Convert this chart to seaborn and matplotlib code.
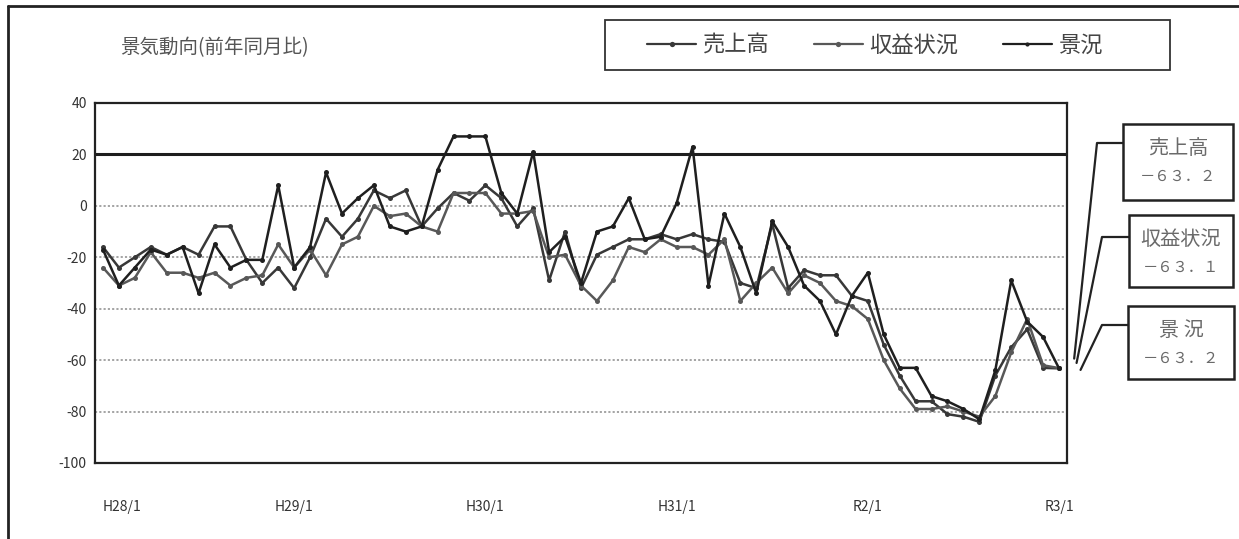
import numpy as np
import pandas as pd
import matplotlib
matplotlib.use("Agg")
import matplotlib.pyplot as plt
from matplotlib.lines import Line2D
from matplotlib.patches import Rectangle
import seaborn as sns

# ---- data: monthly DI, year-on-year (H28/1 .. R3/1) ----
months = list(range(61))
tick_pos = [0, 12, 24, 36, 48, 60]
tick_labels = ["H28/1", "H29/1", "H30/1", "H31/1", "R2/1", "R3/1"]

uriage = [-16, -24, -20, -16, -19, -16, -19, -8, -8, -21,
          -30, -24, -32, -20, -5, -12, -5, 6, 3, 6,
          -8, -1, 5, 2, 8, 3, -8, -1, -29, -10,
          -32, -19, -16, -13, -13, -11, -13, -11, -13, -14,
          -30, -32, -7, -32, -25, -27, -27, -35, -37, -54,
          -66, -76, -76, -81, -82, -84, -66, -55, -48, -63, -63.2]
shueki = [-24, -31, -28, -18, -26, -26, -28, -26, -31, -28,
          -27, -15, -24, -17, -27, -15, -12, 0, -4, -3,
          -8, -10, 5, 5, 5, -3, -3, -2, -20, -19,
          -31, -37, -29, -16, -18, -13, -16, -16, -19, -13,
          -37, -30, -24, -34, -27, -30, -37, -39, -44, -60,
          -71, -79, -79, -78, -80, -82, -74, -57, -44, -62, -63.1]
keikyo = [-17, -31, -24, -17, -19, -16, -34, -15, -24, -21,
          -21, 8, -24, -16, 13, -3, 3, 8, -8, -10,
          -8, 14, 27, 27, 27, 5, -3, 21, -18, -12,
          -30, -10, -8, 3, -13, -12, 1, 23, -31, -3,
          -16, -34, -6, -16, -31, -37, -50, -35, -26, -50,
          -63, -63, -74, -76, -79, -83, -64, -29, -45, -51, -63.2]

series_names = ["売上高", "収益状況", "景況"]
box_names = ["売上高", "収益状況", "景 況"]
series_values = [uriage, shueki, keikyo]
series_colors = ["#383838", "#585858", "#1f1f1f"]
marker_sizes = [3.8, 3.8, 3.0]

df = pd.DataFrame({
    "month": months * 3,
    "value": uriage + shueki + keikyo,
    "series": sum([[n] * len(months) for n in series_names], []),
})

sns.set_style("white")
plt.rcParams["font.family"] = ["Noto Sans CJK JP", "DejaVu Sans"]
plt.rcParams["axes.unicode_minus"] = False

W, H = 1239, 539
fig = plt.figure(figsize=(W / 100, H / 100), dpi=100)


def fx(px):
    return px / W


def fy(py):
    return 1 - py / H


def to_fullwidth(s):
    table = {ord(c): ord(c) + 0xFEE0 for c in "0123456789."}
    table[ord("-")] = ord("－")
    return s.translate(table)


ax = fig.add_axes([fx(95), fy(463), fx(1067) - fx(95), fy(103) - fy(463)])

# reference grid
for gy in [0, -20, -40, -60, -80]:
    ax.axhline(gy, color="#8c8c8c", lw=1.1, ls=(0, (1.4, 1.4)), zorder=0)
ax.axhline(20, color="#1e1e1e", lw=2.2, zorder=1)

sns.lineplot(data=df, x="month", y="value", hue="series",
             hue_order=series_names, palette=series_colors,
             marker="o", markersize=3.6, markeredgewidth=0,
             linewidth=1.8, legend=False, ax=ax, zorder=3)

ax.set_xlim(-0.5, 60.5)
ax.set_ylim(-100, 40)
ax.set_yticks(range(-100, 41, 20))
ax.set_xlabel("")
ax.set_ylabel("")
ax.set_xticks(tick_pos, tick_labels)
ax.set_xticks(np.arange(-0.5, 61, 1), minor=True)
ax.tick_params(axis="x", which="major", length=0, pad=27,
               labelsize=10, labelcolor="#333333")
ax.tick_params(axis="x", which="minor", direction="in", length=4.5,
               width=1.0, color="#333333")
ax.tick_params(axis="y", length=0, pad=6, labelsize=10,
               labelcolor="#333333")
ax.get_xticklabels()[0].set_horizontalalignment("left")
for sp in ax.spines.values():
    sp.set_visible(True)
    sp.set_color("#222222")
    sp.set_linewidth(1.6)

# outer frame
frame_kw = dict(color="#222222", lw=2.0, transform=fig.transFigure)
fig.add_artist(Line2D([fx(8), 1], [fy(6), fy(6)], **frame_kw))
fig.add_artist(Line2D([fx(8), fx(8)], [fy(6), 0], **frame_kw))

# title
fig.text(fx(120), fy(48), "景気動向(前年同月比)", fontsize=14,
         color="#555555", ha="left", va="center")

# legend box
fig.add_artist(Rectangle((fx(605), fy(70)), fx(1170) - fx(605),
                         fy(20) - fy(70), fill=False, ec="#333333",
                         lw=1.3, transform=fig.transFigure))
handles = [Line2D([], [], color=c, lw=1.6, marker="o", ms=ms,
                  markeredgewidth=0)
           for c, ms in zip(series_colors, marker_sizes)]
leg = fig.legend(handles, series_names, loc="center",
                 bbox_to_anchor=(fx(875), fy(45)), ncol=3, frameon=False,
                 fontsize=16, handlelength=2.2, handletextpad=0.3,
                 columnspacing=2.0)
for t in leg.get_texts():
    t.set_color("#444444")

# latest-value callouts
boxes = [(1123, 124, 1233, 200), (1129, 215, 1233, 287),
         (1128, 306, 1234, 379)]
elbows = [(1097, 143), (1102, 237), (1102, 325)]
end_offsets = [(0.95, 3.8), (1.1, 2.0), (1.35, -0.6)]
for name, vals, (x0, y0, x1, y1), (ex, ey), (dx, dy) in zip(
        box_names, series_values, boxes, elbows, end_offsets):
    fig.add_artist(Rectangle((fx(x0), fy(y1)), fx(x1) - fx(x0),
                             fy(y0) - fy(y1), fill=False, ec="#222222",
                             lw=1.8, transform=fig.transFigure))
    cx = (x0 + x1) / 2
    fig.text(fx(cx), fy(y0 + 24), name, fontsize=14.5, color="#6a6a6a",
             ha="center", va="center")
    last = vals[-1]
    fig.text(fx(cx), fy(y0 + 52), to_fullwidth(f"{last:.1f}"),
             fontsize=11, color="#6a6a6a", ha="center", va="center")
    # leader from box to the series' final point
    end_disp = ax.transData.transform((months[-1] + dx, last + dy))
    end_fig = fig.transFigure.inverted().transform(end_disp)
    fig.add_artist(Line2D([fx(x0), fx(ex), end_fig[0]],
                          [fy(ey), fy(ey), end_fig[1]],
                          color="#222222", lw=1.6,
                          transform=fig.transFigure))

fig.savefig("out.png", dpi=100, facecolor="white")
